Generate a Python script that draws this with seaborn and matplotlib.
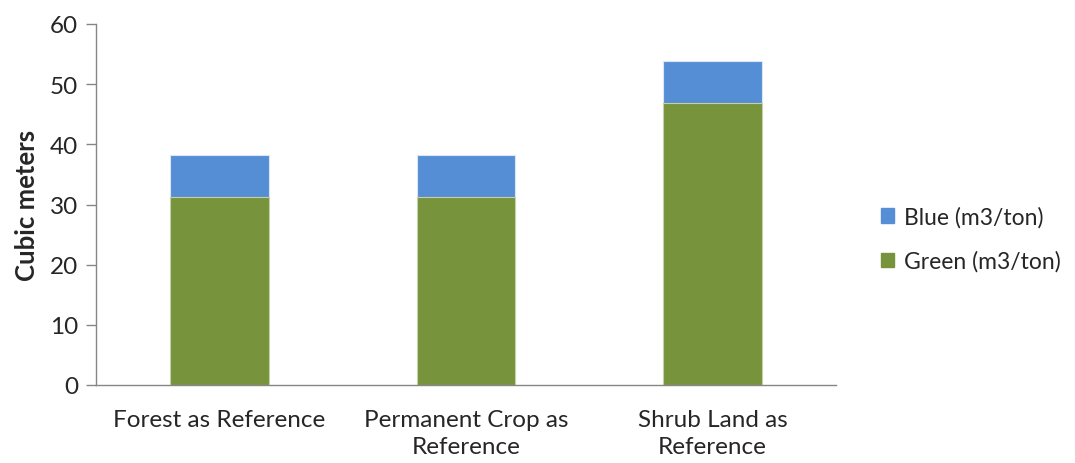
import numpy as np
import pandas as pd
import matplotlib
matplotlib.use("Agg")
import matplotlib.pyplot as plt
import seaborn as sns
from matplotlib.patches import Patch

# --- data ---
categories = ["Forest as Reference", "Permanent Crop as\nReference", "Shrub Land as\nReference"]
green_vals = [31.2, 31.2, 46.8]   # Green (m3/ton)
blue_vals = [7.0, 7.0, 7.0]       # Blue (m3/ton)

BLUE = "#558ED5"
GREEN = "#77933C"
AXIS_GREY = "#868686"

df = pd.DataFrame({
    "category": categories,
    "green": green_vals,
    "blue": blue_vals,
})
df["total"] = df["green"] + df["blue"]

sns.set_theme(style="white")
plt.rcParams["font.family"] = ["Lato", "DejaVu Sans"]

fig = plt.figure(figsize=(10.75, 4.64), dpi=100)
ax = fig.add_axes([96 / 1075, 1 - 386 / 464, (836 - 96) / 1075, (386 - 25) / 464])

# stacked look: total in blue, green drawn on top of it
sns.barplot(data=df, x="category", y="total", color=BLUE, width=0.4,
            edgecolor="#DCE6F2", linewidth=0.8, ax=ax, saturation=1)
sns.barplot(data=df, x="category", y="green", color=GREEN, width=0.4,
            edgecolor="#C5D1A8", linewidth=0.8, ax=ax, saturation=1)

ax.set_xlim(-0.5, 2.5)
ax.set_ylim(0, 60)
ax.set_yticks(np.arange(0, 61, 10))
ax.set_xlabel("")
ax.set_ylabel("Cubic meters", fontsize=18.5, fontweight="bold", labelpad=8)

# category labels centred, tick marks on the boundaries (Excel style)
ax.set_xticks([0, 1, 2])
ax.set_xticklabels(categories, fontsize=17.5, linespacing=1.35)
ax.set_xticks([-0.5, 0.5, 1.5, 2.5], minor=True)
ax.tick_params(axis="x", which="major", length=0, pad=17)
ax.tick_params(axis="x", which="minor", length=7, width=1, color=AXIS_GREY, direction="out")
ax.tick_params(axis="y", length=7, width=1, color=AXIS_GREY, direction="out", labelsize=17.5, pad=6)
ax.tick_params(axis="y", left=True)
ax.tick_params(axis="x", bottom=True)

for side in ["top", "right"]:
    ax.spines[side].set_visible(False)
for side in ["left", "bottom"]:
    ax.spines[side].set_color(AXIS_GREY)
    ax.spines[side].set_linewidth(1)

handles = [Patch(color=BLUE, label="Blue (m3/ton)"),
           Patch(color=GREEN, label="Green (m3/ton)")]
fig.legend(handles=handles, loc="center left", bbox_to_anchor=(860 / 1075, 1 - 240 / 464),
           frameon=False, fontsize=16.5, handlelength=0.6, handleheight=0.6,
           handletextpad=0.4, labelspacing=1.0)

fig.savefig("out.png", dpi=100)
